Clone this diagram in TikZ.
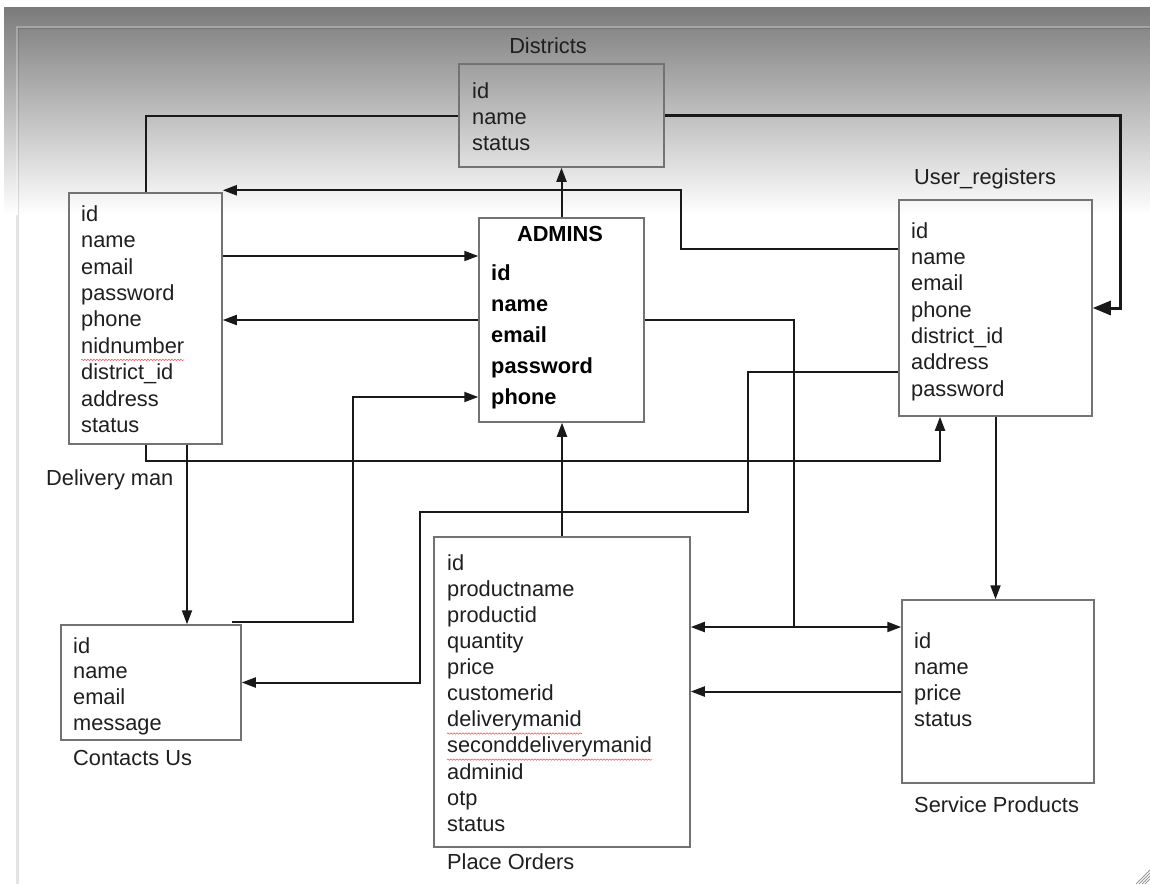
\documentclass[tikz,border=0pt]{standalone}
\usepackage{fontspec}
\setmainfont{Liberation Sans}
\usetikzlibrary{arrows.meta, positioning, decorations.pathmorphing}

\newcommand{\tblfont}{\fontsize{21.8}{26}\selectfont}

\begin{document}
\begin{tikzpicture}[x=1pt, y=-1pt]
\tikzstyle{every node}=[font=\tblfont, text=black!88]
\tikzstyle{table}=[draw=black!55, line width=1.5pt, rectangle, inner sep=0pt]
\tikzstyle{field}=[anchor=west, inner sep=0pt, text height=15.5pt, text depth=4.5pt, yshift=-2.7pt]
\tikzstyle{keyfield}=[field, font=\tblfont\bfseries, text=black]
\tikzstyle{title}=[anchor=west, inner sep=0pt, yshift=-1.5pt]
\tikzstyle{wire}=[draw=black!90, line width=2pt]
\tikzstyle{link}=[wire, -{Triangle[length=14pt, width=10pt]}]
\tikzstyle{link2}=[wire, {Triangle[length=14pt, width=10pt]}-{Triangle[length=14pt, width=10pt]}]
\tikzstyle{spell}=[draw=red!65, line width=0.6pt, decorate, decoration={snake, amplitude=0.7pt, segment length=3pt}]

% window background
\useasboundingbox (0,0) rectangle (1150,884);
\fill[white] (0,0) rectangle (1150,884);
\shade[top color=black!52, bottom color=white] (4,7) rectangle (1150,215);
\draw[white, opacity=0.25, line width=1.5pt] (17,884) -- (17,27) -- (1150,27);
\draw[black, opacity=0.12, line width=1pt] (18.5,884) -- (18.5,28.5) -- (1150,28.5);
\draw[black!10, line width=1.5pt] (17,215) -- (17,884);
\foreach \k in {0,3,6,9}
  \draw[black!40, line width=0.8pt] (1136+\k,884) -- (1150,870+\k);

% tables
\node[table, minimum width=205pt, minimum height=103pt] at (561.5,115.5) (dist) {};
\node[table, minimum width=153pt, minimum height=251pt] at (145.5,318.5) (dman) {};
\node[table, minimum width=165pt, minimum height=204pt] at (561.5,320) (admin) {};
\node[table, minimum width=193pt, minimum height=216pt] at (995.5,308) (ureg) {};
\node[table, minimum width=180pt, minimum height=115pt] at (151,682.5) (contact) {};
\node[table, minimum width=256pt, minimum height=310pt] at (562,692) (porder) {};
\node[table, minimum width=192pt, minimum height=183pt] at (998,691.5) (sprod) {};

% table names
\node[yshift=-1.5pt] at (548,44) (dist-name) {Districts};
\node[title] at (914,177) (ureg-name) {User\_registers};
\node[title] at (46,478) (dman-name) {Delivery man};
\node[title] at (73,756) (contact-name) {Contacts Us};
\node[title] at (447,860) (porder-name) {Place Orders};
\node[title] at (914,803) (sprod-name) {Service Products};
\node[font=\tblfont\bfseries, text=black, yshift=-1.5pt] at (560,232) (admin-name) {ADMINS};

% fields
\foreach \f [count=\i from 0] in {id, name, status}
  \node[field] (dist-\i) at (472,90+26*\i) {\f};
\foreach \f [count=\i from 0] in {id, name, email, password, phone, nidnumber, district\_id, address, status}
  \node[field] (dman-\i) at (81,213+26.4*\i) {\f};
\foreach \f [count=\i from 0] in {id, name, email, password, phone}
  \node[keyfield] (admin-\i) at (491,272+31*\i) {\f};
\foreach \f [count=\i from 0] in {id, name, email, phone, district\_id, address, password}
  \node[field] (ureg-\i) at (911,230+26.3*\i) {\f};
\foreach \f [count=\i from 0] in {id, name, email, message}
  \node[field] (contact-\i) at (73,645+25.7*\i) {\f};
\foreach \f [count=\i from 0] in {id, productname, productid, quantity, price, customerid, deliverymanid, seconddeliverymanid, adminid, otp, status}
  \node[field] (porder-\i) at (447,562+26.1*\i) {\f};
\foreach \f [count=\i from 0] in {id, name, price, status}
  \node[field] (sprod-\i) at (914,640+26*\i) {\f};

% spelling marks
\foreach \n in {dman-5, porder-6, porder-7}
  \draw[spell] ([yshift=-2pt]\n.south west) -- ([yshift=-2pt]\n.south east);

% relations
\draw[wire] (dman.north) |- (dist.west);
\draw[wire, line width=3pt, -{Triangle[length=18pt, width=14pt]}] (dist.east) -| ([xshift=28pt]ureg.east) -- (ureg.east);
\draw[link] (admin.north) -- (dist.south);
\draw[link] ([yshift=59pt]ureg.west) -- ++(-217,0) |- ([yshift=2pt]dman.north east);
\draw[link] ([yshift=62.5pt]dman.east) -- ([yshift=64pt]admin.west);
\draw[link] (admin.west) -- (admin.west -| dman.east);
\draw[link] ([xshift=-10pt, yshift=2pt]contact.north east) -- ++(121,0) |- ([yshift=-77pt]admin.west);
\draw[link] (dman.south) -- ++(0,16) -| ([xshift=-55.5pt]ureg.south);
\draw[link] ([xshift=41.5pt]dman.south) -- ([xshift=36pt]contact.north);
\draw[link] (porder.north) -- (porder.north |- admin.south);
\draw[link] ([yshift=-64pt]ureg.west) -- ++(-150,0) -- ++(0,140) -| ([xshift=178pt]contact.east) -- (contact.east);
\draw[wire] (admin.east) -| ([xshift=103pt, yshift=65pt]porder.east);
\draw[link2] ([yshift=65pt]porder.east) -- ([yshift=64.5pt]sprod.west);
\draw[link] (ureg.south) -- (ureg.south |- sprod.north);
\draw[link] (sprod.west) -- (sprod.west -| porder.east);
\end{tikzpicture}
\end{document}
